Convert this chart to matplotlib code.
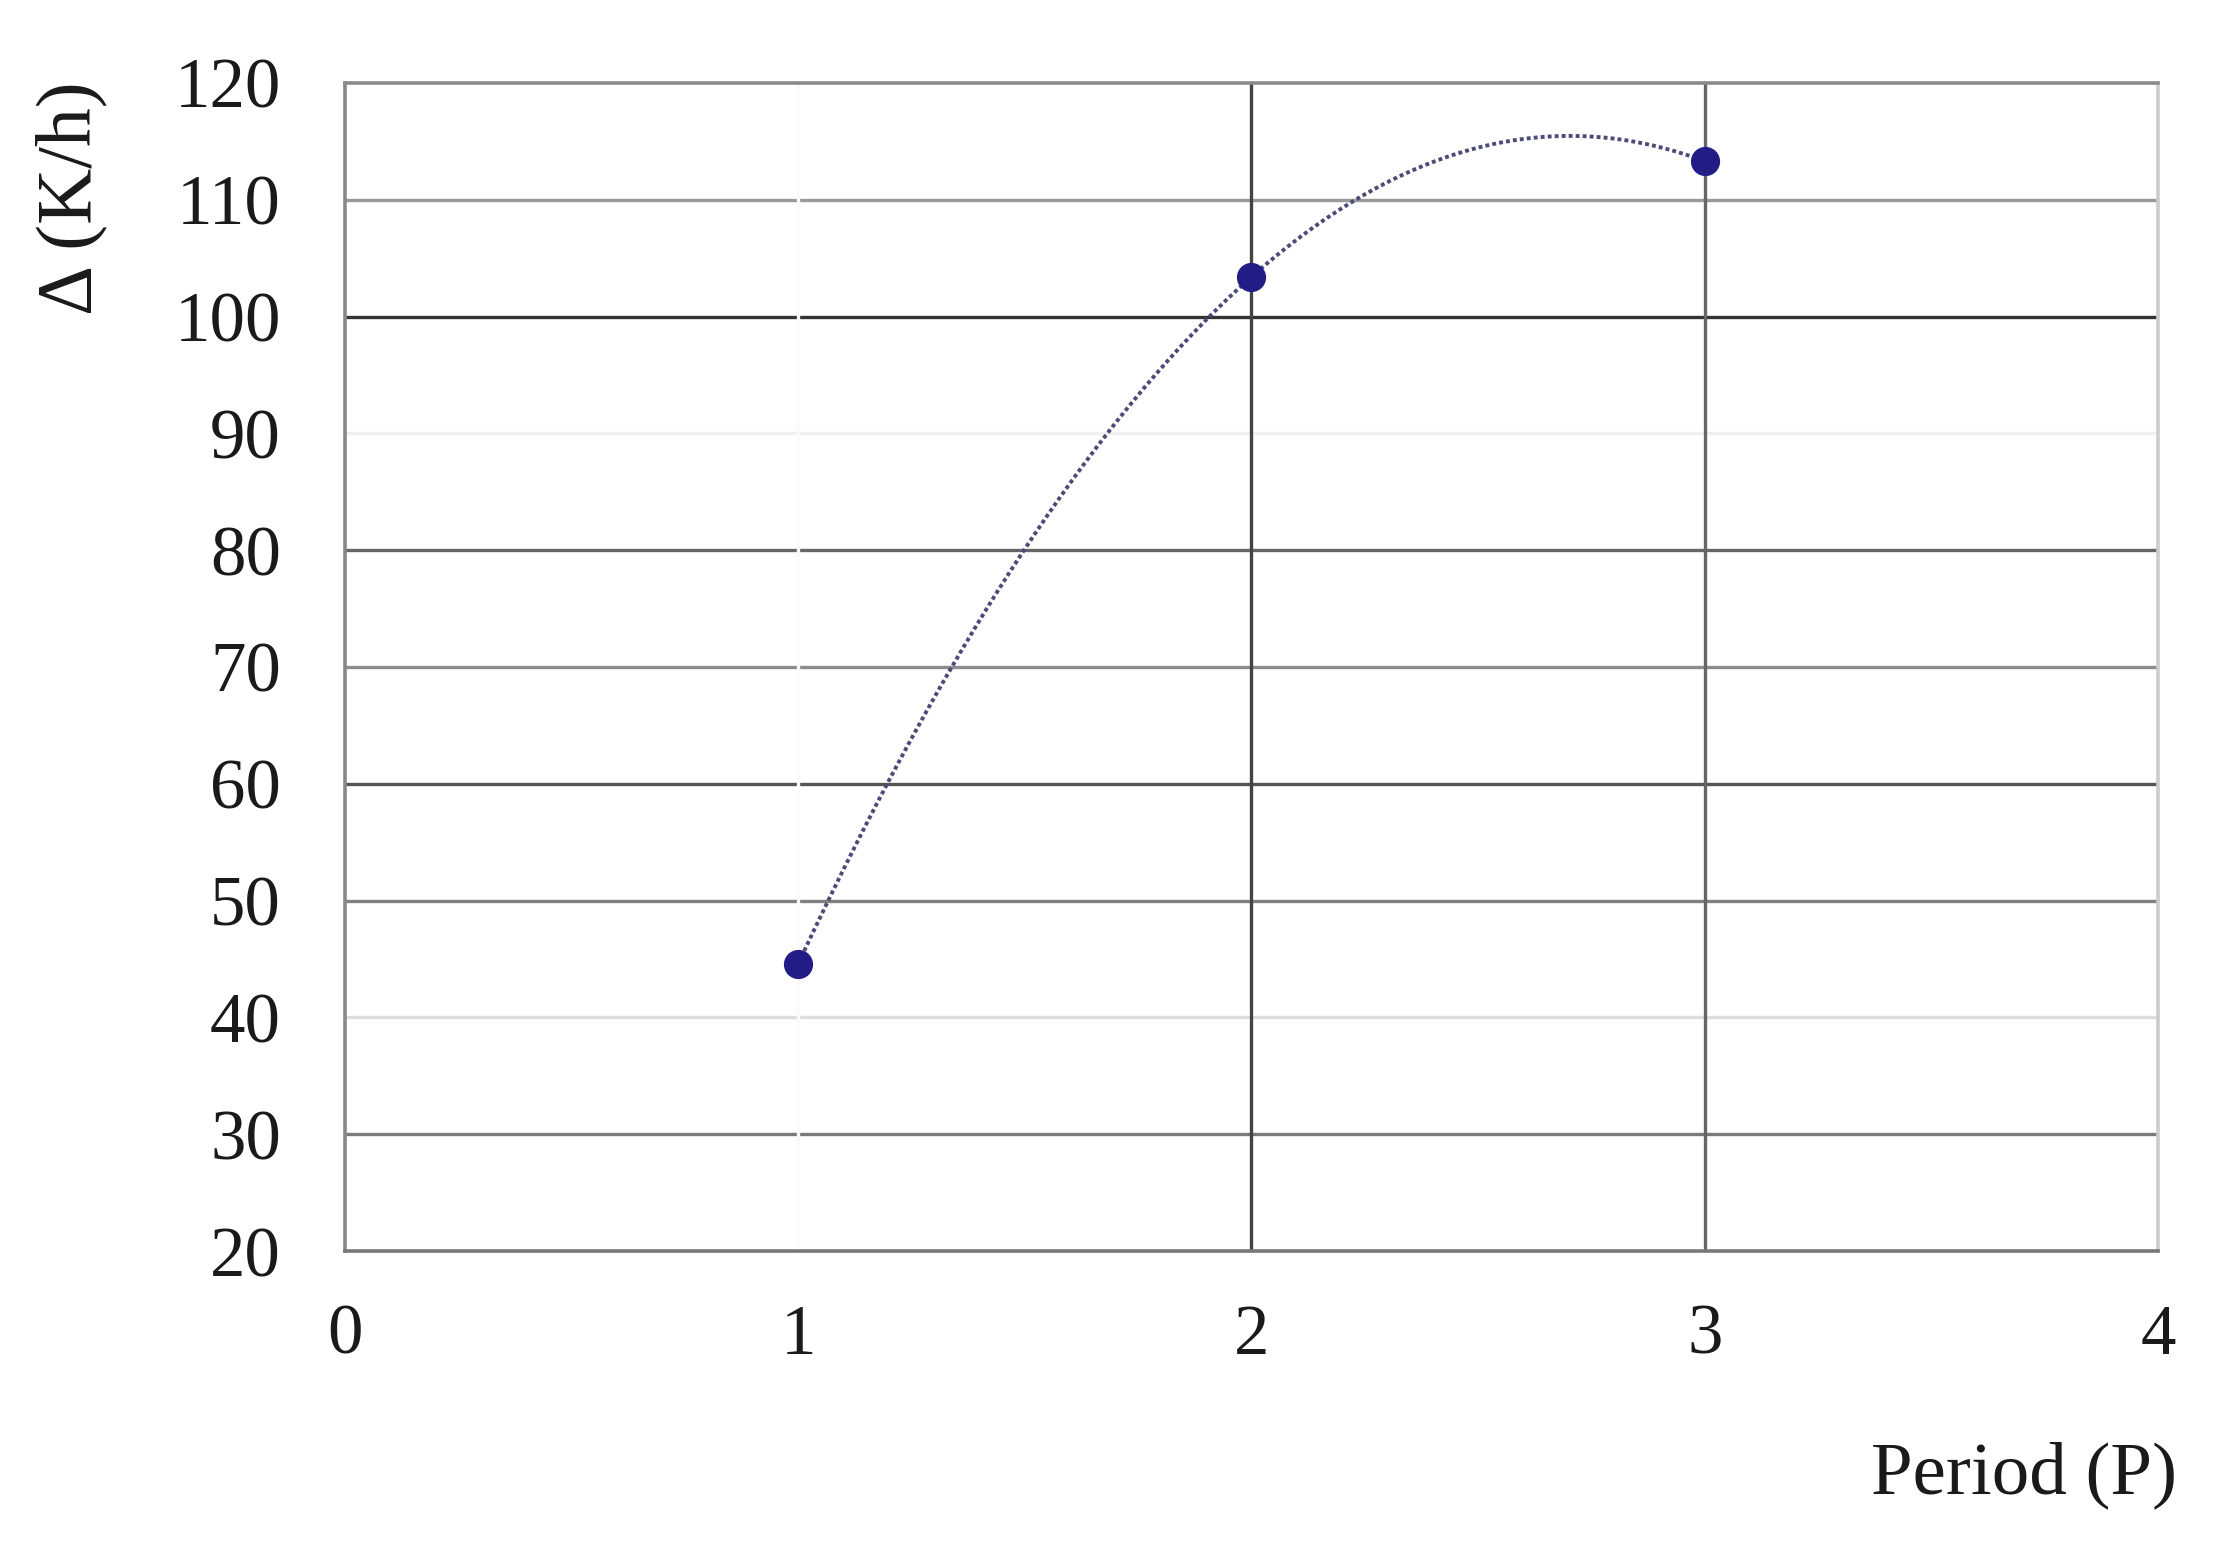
import numpy as np
import matplotlib
matplotlib.use("Agg")
import matplotlib.pyplot as plt

# ---- data ----
period = [1, 2, 3]
delta = [44.6, 103.4, 113.3]
x_ticks = [0, 1, 2, 3, 4]
y_ticks = [20, 30, 40, 50, 60, 70, 80, 90, 100, 110, 120]
x_label = "Period (P)"
y_label = "Δ (K/h)"

# ---- style ----
plt.rcParams['font.family'] = ['Liberation Serif', 'DejaVu Serif']
hgrid_colors = {30: '#7a7a7a', 40: '#dddddd', 50: '#808080', 60: '#555555',
                70: '#8c8c8c', 80: '#666666', 90: '#f0f0f0', 100: '#333333',
                110: '#999999'}
vgrid_colors = {1: '#fafafa', 2: '#444444', 3: '#666666'}

fig = plt.figure(figsize=(22.17, 15.62), dpi=100)
ax = fig.add_axes([0.1556, 0.1991, 0.8178, 0.7478])

for yv, c in hgrid_colors.items():
    ax.axhline(yv, color=c, lw=2.4, zorder=1)
for xv, c in vgrid_colors.items():
    ax.axvline(xv, color=c, lw=2.4, zorder=1)

# quadratic trend line through the data
coef = np.polyfit(period, delta, 2)
xs = np.linspace(min(period), max(period), 300)
ax.plot(xs, np.polyval(coef, xs), color='#4b4b78', lw=2.8,
        linestyle=(0, (1, 0.8)), zorder=2)
ax.plot(period, delta, 'o', color='#211c86', markersize=20, zorder=3)

ax.set_xlim(x_ticks[0], x_ticks[-1])
ax.set_ylim(y_ticks[0], y_ticks[-1])
ax.set_xticks(x_ticks)
ax.set_yticks(y_ticks)
ax.tick_params(axis='both', length=0, labelsize=51, colors='#1a1a1a')
ax.tick_params(axis='y', pad=46)
ax.tick_params(axis='x', pad=38)

for side, c in [('left', '#888888'), ('bottom', '#777777'),
                ('top', '#8a8a8a'), ('right', '#cccccc')]:
    ax.spines[side].set_color(c)
    ax.spines[side].set_linewidth(2.6)

fig.text(0.982, 0.0557, x_label, ha='right', va='center', fontsize=54,
         color='#1a1a1a')
fig.text(0.032, 0.873, y_label, ha='center', va='center', rotation=90,
         fontsize=56, color='#1a1a1a')

fig.savefig('out.png', dpi=100, facecolor='white')
